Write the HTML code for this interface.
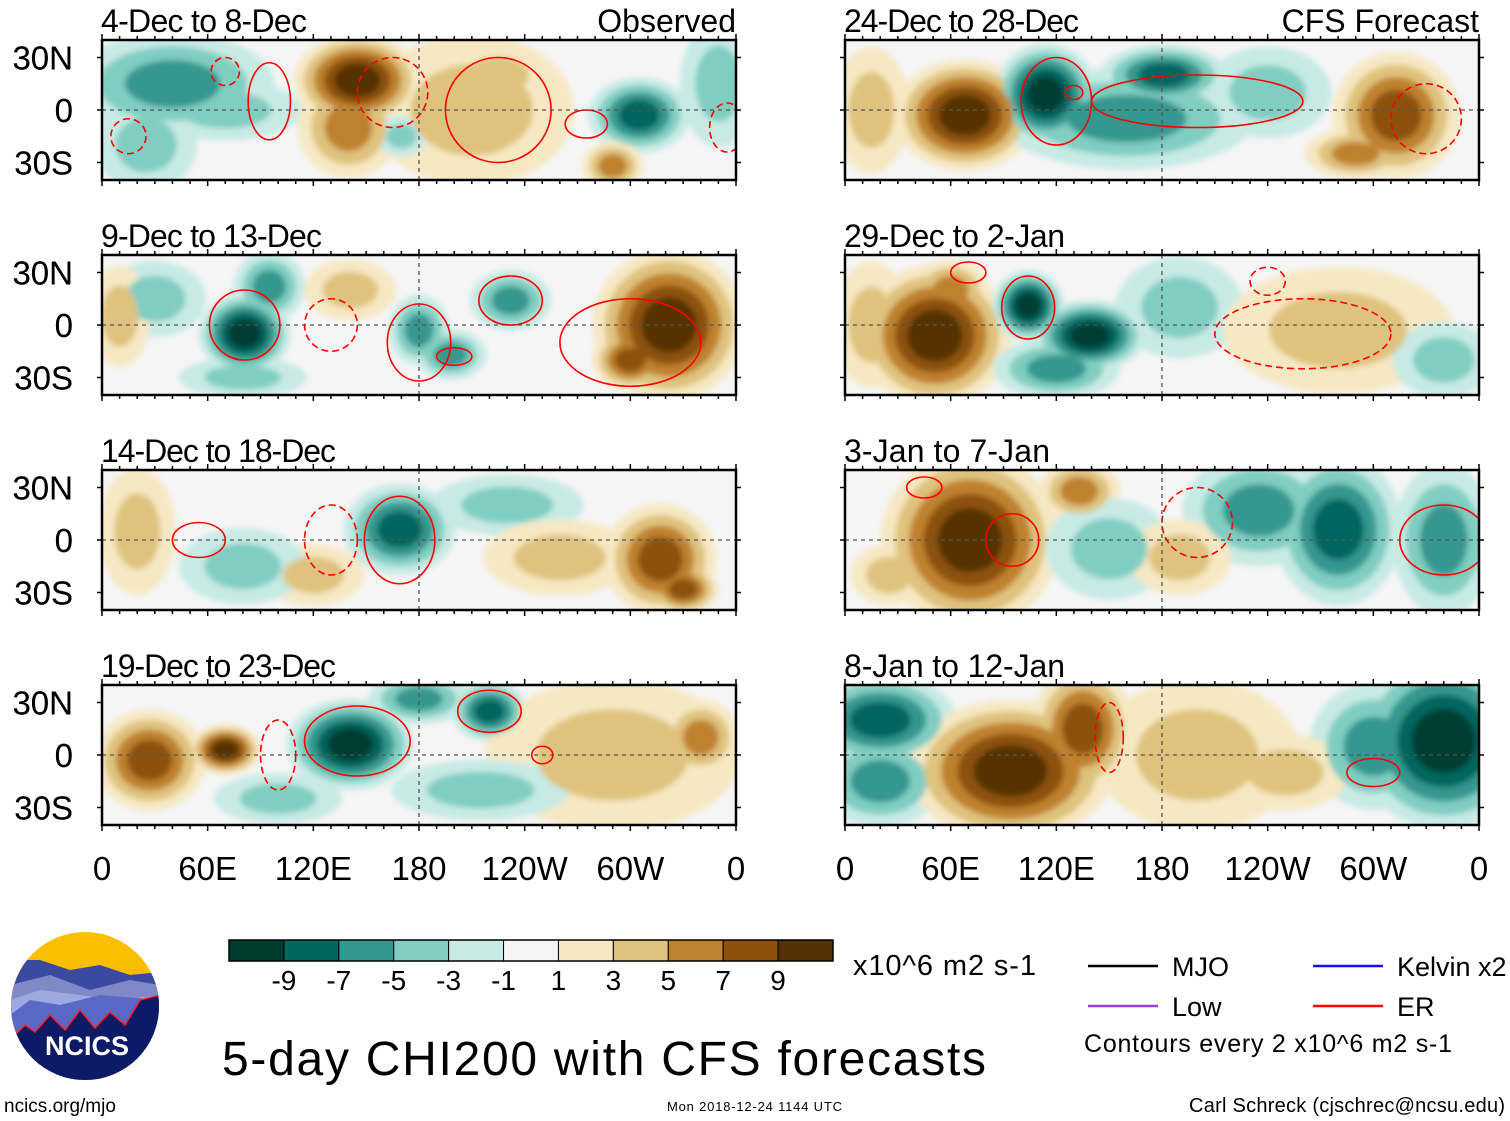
<!DOCTYPE html>
<html><head><meta charset="utf-8"><style>
html,body{margin:0;padding:0;background:#fff;}
svg{display:block;font-family:"Liberation Sans",sans-serif;}
</style></head><body>
<svg id="root" width="1510" height="1121" viewBox="0 0 1510 1121">
<defs>
<filter id="blur" x="-20%" y="-20%" width="140%" height="140%"><feGaussianBlur stdDeviation="3"/></filter>
<linearGradient id="sky" x1="0" y1="0" x2="0" y2="1"><stop offset="0" stop-color="#f9c000"/><stop offset="1" stop-color="#f7b500"/></linearGradient>
<clipPath id="logoclip"><circle cx="85" cy="1006" r="74"/></clipPath>
</defs>
</svg>
<script>
// ----- Chart data -----
const colorLevels = [-9,-7,-5,-3,-1,1,3,5,7,9];
const palette = ["#003c30","#01665e","#35978f","#80cdc1","#c7eae5","#f5f5f5","#f6e8c3","#dfc27d","#bf812d","#8c510a","#543005"];
const lonTickLabels = ["0","60E","120E","180","120W","60W","0"];
const lonTicks = [0,60,120,180,240,300,360];
const latTickLabels = ["30N","0","30S"];
const latTicks = [30,0,-30];
const panelTitles = ["4-Dec to 8-Dec","9-Dec to 13-Dec","14-Dec to 18-Dec","19-Dec to 23-Dec","24-Dec to 28-Dec","29-Dec to 2-Jan","3-Jan to 7-Jan","8-Jan to 12-Jan"];
// anomaly blobs per panel: [lon, lat, lonRadius, latRadius, peak value]
const blobs0 = [[40,15,40,20,-5],[70,0,30,12,-3],[25,-20,20,18,-3],[145,17,25,18,9],[140,-10,20,20,5],[210,0,40,30,3],[225,20,20,12,3],[305,-3,20,15,-7],[350,15,15,25,-3],[290,-32,12,10,5],[170,-15,10,8,-3]];
const blobs1 = [[81,-5,18,16,-9],[95,22,14,14,-5],[30,15,20,15,-3],[180,-3,12,14,-5],[198,-17,14,10,-5],[232,14,16,12,-5],[322,0,30,30,9],[300,-20,15,12,7],[141,20,18,12,3],[80,-30,25,8,-3],[10,5,12,20,3]];
const blobs2 = [[169,6,22,18,-7],[20,5,15,25,3],[317,-11,22,22,7],[330,-28,14,10,7],[230,20,30,12,-3],[120,-20,20,12,3],[80,-15,25,15,-3],[260,-10,30,15,3]];
const blobs3 = [[27,-3,22,20,7],[70,3,14,10,9],[141,6,25,18,-9],[180,32,20,10,-5],[220,25,15,12,-7],[290,0,50,30,3],[215,-20,35,12,-3],[340,10,15,15,5],[100,-25,25,10,-3]];
const blobs4 = [[68,-3,28,22,9],[114,9,20,20,-9],[160,-5,50,20,-5],[181,20,25,12,-7],[313,-3,25,25,7],[15,0,15,25,3],[240,10,25,18,-3],[290,-25,20,10,5]];
const blobs5 = [[51,-6,30,28,9],[60,20,15,12,5],[104,11,14,14,-9],[139,-6,22,14,-9],[120,-25,25,12,-5],[190,10,25,20,-3],[280,-3,45,25,3],[15,0,15,25,3],[340,-20,20,15,-3]];
const blobs6 = [[71,0,35,35,9],[133,28,16,12,5],[150,-5,25,20,-3],[235,17,30,22,-5],[280,6,25,30,-7],[340,0,20,30,-5],[190,-10,20,15,3],[25,-20,15,12,3]];
const blobs7 = [[20,20,30,18,-7],[20,-15,25,18,-5],[94,-9,40,28,9],[135,15,20,25,7],[200,0,40,30,3],[340,8,35,35,-9],[300,5,25,25,-5],[250,-10,25,15,3]];
const allBlobs = [blobs0,blobs1,blobs2,blobs3,blobs4,blobs5,blobs6,blobs7];
// ER contours: [lon, lat, lonRadius, latRadius, dashed(1)/solid(0)]
const er0 = [[95,5,12,22,0],[165,10,20,20,1],[225,0,30,30,0],[275,-8,12,8,0],[70,22,8,8,1],[15,-15,10,10,1],[355,-10,10,14,1]];
const er1 = [[81,0,20,20,0],[180,-10,18,22,0],[200,-18,10,5,0],[232,14,18,14,0],[130,0,15,15,1],[300,-10,40,25,0]];
const er2 = [[169,0,20,25,0],[55,0,15,10,0],[130,0,15,20,1]];
const er3 = [[145,8,30,20,0],[220,25,18,12,0],[250,0,6,5,0],[100,0,10,20,1]];
const er4 = [[120,5,20,25,0],[130,10,5,4,0],[200,5,60,15,0],[330,-5,20,20,1]];
const er5 = [[104,10,15,18,0],[70,30,10,6,0],[260,-5,50,20,1],[240,25,10,8,1]];
const er6 = [[95,0,15,15,0],[45,30,10,6,0],[200,10,20,20,1],[340,0,25,20,0]];
const er7 = [[300,-10,15,8,0],[150,10,8,20,1]];
const allER = [er0,er1,er2,er3,er4,er5,er6,er7];

const NS="http://www.w3.org/2000/svg";
const root=document.getElementById('root');
function mk(tag,attrs,parent){const e=document.createElementNS(NS,tag);for(const k in attrs)e.setAttribute(k,attrs[k]);(parent||root).appendChild(e);return e;}
function colorFor(v){let i=0;while(i<colorLevels.length&&v>colorLevels[i])i++;return palette[i];}

const panelX=[102,845], panelY=[40,255,470,685], PW=634, PH=140;
for(let p=0;p<8;p++){
  const col=p<4?0:1,row=p%4;
  const x0=panelX[col],y0=panelY[row];
  const xS=lon=>x0+lon/360*PW;
  const yS=lat=>y0+PH/2-lat*1.75;
  const g=mk('g',{});
  
  
  const cid='clip'+p;
  const cp=mk('clipPath',{id:cid},root.querySelector('defs'));
  mk('rect',{x:x0,y:y0,width:PW,height:PH},cp);
  const inner=mk('g',{'clip-path':'url(#'+cid+')'},g);
  mk('rect',{x:x0,y:y0,width:PW,height:PH,fill:palette[5]},inner);
  const fg=mk('g',{filter:'url(#blur)'},inner);
  // draw all outer layers first, then inner layers, so strong cores stay on top
  const maxN=5;
  for(let k=1;k<=maxN;k++){
    allBlobs[p].forEach(b=>{
      const [lon,lat,rl,rt,v]=b;
      const n=Math.round((Math.abs(v)+1)/2);
      if(k>n) return;
      const f=1.45*(1-0.8*(k-1)/n);
      const lev=Math.sign(v)*(2*k-1)+Math.sign(v)*0.5;
      const el=mk('ellipse',{cx:xS(lon),cy:yS(lat),rx:rl*f/360*PW,ry:rt*f*1.75,fill:colorFor(lev)},fg);
      
      
    });
  }
  allER[p].forEach(c=>{
    const el=mk('ellipse',{cx:xS(c[0]),cy:yS(c[1]),rx:c[2]/360*PW,ry:c[3]*1.75,fill:'none',stroke:'#ff0000','stroke-width':1.6,'stroke-dasharray':c[4]?'7 4':'none'},inner);
    
    
  });
  mk('line',{x1:x0,x2:x0+PW,y1:yS(0),y2:yS(0),stroke:'#555','stroke-width':1.3,'stroke-dasharray':'4 4'},inner);
  mk('line',{x1:xS(180),x2:xS(180),y1:y0,y2:y0+PH,stroke:'#555','stroke-width':1.3,'stroke-dasharray':'4 4'},inner);
  mk('rect',{x:x0,y:y0,width:PW,height:PH,fill:'none',stroke:'#000','stroke-width':2.5},g);
  for(let l=0;l<=360;l+=10){
    const big=l%60===0;
    mk('line',{x1:xS(l),x2:xS(l),y1:y0,y2:y0-(big?6:4),stroke:'#000','stroke-width':1.5},g);
    mk('line',{x1:xS(l),x2:xS(l),y1:y0+PH,y2:y0+PH+(big?6:4),stroke:'#000','stroke-width':1.5},g);
  }
  latTicks.forEach((lt,i)=>{
    mk('line',{x1:x0,x2:x0-5,y1:yS(lt),y2:yS(lt),stroke:'#000','stroke-width':1.5},g);
    mk('line',{x1:x0+PW,x2:x0+PW+5,y1:yS(lt),y2:yS(lt),stroke:'#000','stroke-width':1.5},g);
    const t=mk('text',{x:73,y:yS(lt)+12,'font-size':33,'text-anchor':'end'},g);
    t.textContent=latTickLabels[i];
    
    
  });
  const tt=mk('text',{x:x0-1,y:y0-8,'font-size':32,textLength:(panelTitles[p].length*14.7).toFixed(0)},g);
  tt.textContent=panelTitles[p];
  
  
  if(row===0){
    const s=mk('text',{x:x0+PW,y:y0-8,'font-size':32,'text-anchor':'end'},g);
    s.textContent=col===0?'Observed':'CFS Forecast';
    
    
  }
  if(row===3){
    lonTicks.forEach((l,i)=>{
      const t=mk('text',{x:xS(l),y:880,'font-size':33,'text-anchor':'middle'},g);
      t.textContent=lonTickLabels[i];
      
      
    });
  }
}
// colorbar
const cb=mk('g',{});


const cbX=229,cbW=604,cbY=940,cbH=21;
palette.forEach((c,i)=>{mk('rect',{x:cbX+i*cbW/11,y:cbY,width:cbW/11,height:cbH,fill:c,stroke:'#000','stroke-width':1},cb);});
mk('rect',{x:cbX,y:cbY,width:cbW,height:cbH,fill:'none',stroke:'#000','stroke-width':1.5},cb);
colorLevels.forEach((v,i)=>{
  const t=mk('text',{x:cbX+(i+1)*cbW/11,y:990,'font-size':28,'text-anchor':'middle'},cb);
  t.textContent=String(v);
  
  
});
function txt(s,a,name){const t=mk('text',a);t.textContent=s;return t;}
txt('x10^6 m2 s-1',{x:853,y:975,'font-size':29,textLength:183},'units-label');
txt('5-day CHI200 with CFS forecasts',{x:222,y:1075,'font-size':48,textLength:764},'main-title');
txt('ncics.org/mjo',{x:4,y:1112,'font-size':19},'website-link');
txt('Mon 2018-12-24 1144 UTC',{x:667,y:1111,'font-size':13,textLength:175},'timestamp');
txt('Carl Schreck (cjschrec@ncsu.edu)',{x:1189,y:1112,'font-size':20,textLength:316},'author-credit');
// legend
const lg=[["MJO","#000",1088,966],["Kelvin x2","#1010ff",1313,966],["Low","#9a40e0",1088,1006],["ER","#ff0000",1313,1006]];
lg.forEach(l=>{
  mk('line',{x1:l[2],x2:l[2]+70,y1:l[3],y2:l[3],stroke:l[1],'stroke-width':2.5});
  txt(l[0],{x:l[2]+84,y:l[3]+10,'font-size':27},'legend-entry');
});
txt('Contours every 2 x10^6 m2 s-1',{x:1084,y:1052,'font-size':25,textLength:368},'contour-note');
// logo
const lo=mk('g',{'clip-path':'url(#logoclip)'});


mk('rect',{x:10,y:930,width:150,height:152,fill:'url(#sky)'},lo);
mk('path',{d:'M10 960 L40 960 L70 970 L100 965 L130 975 L160 972 L160 1082 L10 1082Z',fill:'#3b4aa0'},lo);
mk('path',{d:'M10 985 L50 975 L90 990 L130 980 L160 985 L160 1082 L10 1082Z',fill:'#8088c8'},lo);
mk('path',{d:'M10 1000 L40 990 L80 995 L120 1000 L160 995 L160 1082 L10 1082Z',fill:'#a0a8e0'},lo);
mk('path',{d:'M10 1015 L30 1000 L60 1005 L100 995 L160 1000 L160 1082 L10 1082Z',fill:'#5a68c8'},lo);
mk('path',{d:'M10 1040 L25 1025 L35 1032 L50 1015 L65 1030 L80 1010 L95 1028 L110 1012 L125 1025 L140 1000 L160 995 L160 1082 L10 1082Z',fill:'#0d1a66',stroke:'#ff2020','stroke-width':1.5},lo);
const lt=mk('text',{x:87,y:1055,'font-size':27,'font-weight':'bold',fill:'#fff','text-anchor':'middle'},lo);
lt.textContent='NCICS';


</script>
</body></html>
